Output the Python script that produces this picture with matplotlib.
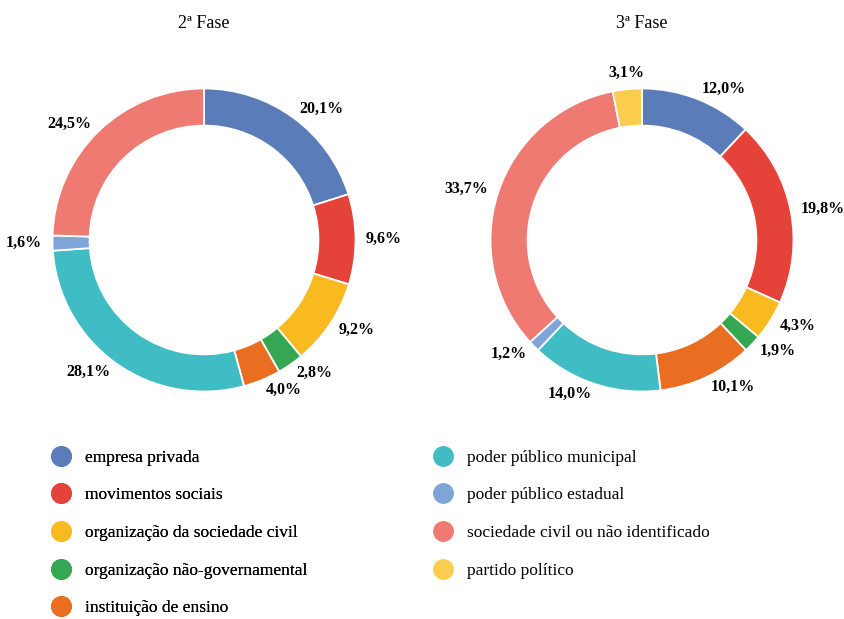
import matplotlib
matplotlib.use("Agg")
import matplotlib.pyplot as plt
from matplotlib.lines import Line2D

plt.rcParams['font.family'] = ['Liberation Serif', 'DejaVu Serif']

categories = [
    'empresa privada',
    'movimentos sociais',
    'organização da sociedade civil',
    'organização não-governamental',
    'instituição de ensino',
    'poder público municipal',
    'poder público estadual',
    'sociedade civil ou não identificado',
    'partido político',
]
colors = ['#5A7DBA', '#E5433A', '#F8BA1E', '#35A651', '#EA6E22',
          '#40BCC5', '#7FA4D8', '#EE7A71', '#FBCD4F']

fase2 = [20.1, 9.6, 9.2, 2.8, 4.0, 28.1, 1.6, 24.5, 0.0]
fase3 = [12.0, 19.8, 4.3, 1.9, 10.1, 14.0, 1.2, 33.7, 3.1]
titles = ['2ª Fase', '3ª Fase']

fig = plt.figure(figsize=(8.45, 6.19), dpi=100)

W, H = 845, 619
centers = [(204, 240), (642, 240)]
half = 200  # px half-size of each pie axes


def fmt(v):
    return f"{v:.1f}".replace('.', ',') + '%'


for (cx, cy), vals, title in zip(centers, [fase2, fase3], titles):
    ax = fig.add_axes([(cx - half) / W, (H - cy - half) / H,
                       2 * half / W, 2 * half / H])
    keep = [i for i, v in enumerate(vals) if v > 0]
    v = [vals[i] for i in keep]
    c = [colors[i] for i in keep]
    labels = [fmt(x) for x in v]
    wedges, texts = ax.pie(v, colors=c, labels=labels, startangle=90,
                           counterclock=False, labeldistance=1.07,
                           wedgeprops=dict(width=0.245, edgecolor='white',
                                           linewidth=1.3))
    for t in texts:
        t.set_fontsize(11.5)
        t.set_fontweight('bold')
        # labels close to the top of the ring sit centred over it
        x, y = t.get_position()
        if abs(x) < 0.25:
            t.set_ha('center')
            t.set_position((x, y + 0.04))
    ax.set_xlim(-1.32, 1.32)
    ax.set_ylim(-1.32, 1.32)
    ax.set_aspect('equal')
    ax.axis('off')
    fig.text(cx / W, 1 - 23 / H, title, ha='center', va='center', fontsize=13)

handles = [Line2D([], [], marker='o', linestyle='none', markersize=14,
                  markerfacecolor=col, markeredgecolor=col) for col in colors]

leg_kw = dict(loc='upper left', frameon=False, fontsize=12.5,
              labelspacing=1.24, handletextpad=0.78, handlelength=1.2,
              borderpad=0, borderaxespad=0)
leg1 = fig.legend(handles[:5], categories[:5],
                  bbox_to_anchor=(50.6 / W, 1 - 449.5 / H), **leg_kw)
fig.add_artist(leg1)
fig.legend(handles[5:], categories[5:],
           bbox_to_anchor=(432.6 / W, 1 - 449.5 / H), **leg_kw)

fig.savefig('out.png', dpi=100)
